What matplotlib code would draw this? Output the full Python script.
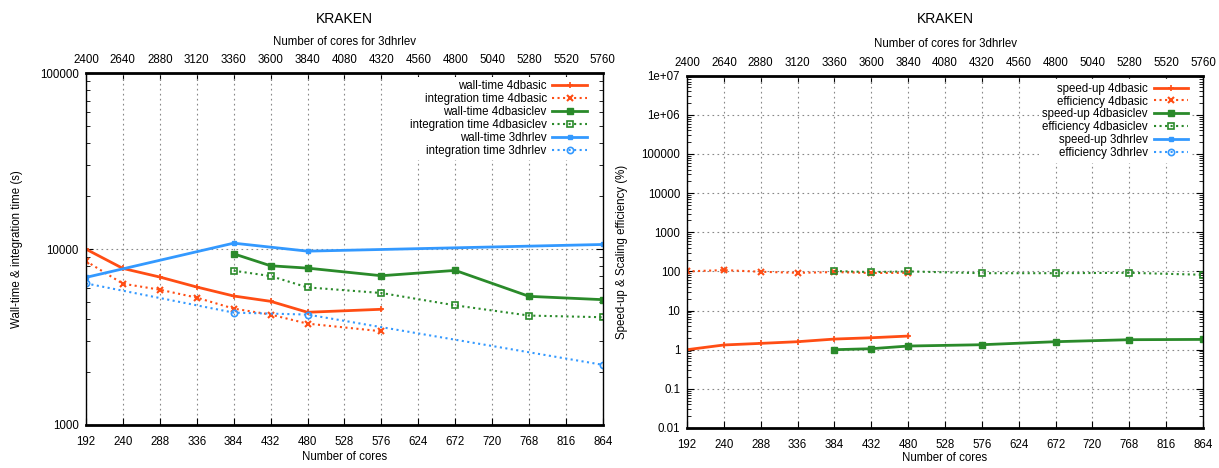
# KRAKEN scaling: wall-time / integration time and speed-up / efficiency

import numpy as np
import matplotlib
matplotlib.use('Agg')
import matplotlib.pyplot as plt
from matplotlib.ticker import FixedLocator, LogLocator, NullFormatter, FuncFormatter

plt.rcParams['font.family'] = ['Liberation Sans', 'DejaVu Sans']
plt.rcParams['font.size'] = 8.3

# data
cores_4dbasic = [192, 240, 288, 336, 384, 432, 480, 576]
wall_4dbasic = [10000, 7770, 6940, 6090, 5415, 5050, 4375, 4550]
integ_4dbasic = [8550, 6360, 5880, 5300, 4590, 4245, 3770, 3412]

cores_4dbasiclev = [384, 432, 480, 576, 672, 768, 864]
wall_4dbasiclev = [9410, 8043, 7800, 7060, 7570, 5390, 5160]
integ_4dbasiclev = [7540, 7030, 6060, 5630, 4790, 4190, 4100]

cores_3dhrlev = [2400, 3360, 3840, 5760]
wall_3dhrlev = [6906, 10815, 9740, 10630]
integ_3dhrlev = [6385, 4355, 4245, 2198]

cores_speed_4dbasic = [192, 240, 288, 336, 384, 432, 480]
speedup_4dbasic = [1.0, 1.32, 1.45, 1.6, 1.87, 2.02, 2.23]
eff_4dbasic = [100, 108, 98, 92, 96, 91, 92]

cores_speed_4dbasiclev = [384, 432, 480, 576, 672, 768, 864]
speedup_4dbasiclev = [1.0, 1.06, 1.24, 1.34, 1.6, 1.8, 1.83]
eff_4dbasiclev = [102, 96, 100, 90, 90, 92, 82]

bottom_ticks = list(range(192, 865, 48))
top_ticks = list(range(2400, 5761, 240))

c_or = '#ff4d14'
c_gr = '#2a8a2a'
c_bl = '#3399ff'

fig = plt.figure(figsize=(12.19, 4.68), dpi=100)
ax1 = fig.add_axes([0.0705, 0.0919, 0.4241, 0.7515])
ax2 = fig.add_axes([0.5636, 0.0855, 0.4233, 0.7528])


def style_axes(ax, ylo, yhi):
    ax.set_yscale('log')
    ax.set_xlim(192, 864)
    ax.set_ylim(ylo, yhi)
    ax.xaxis.set_major_locator(FixedLocator(bottom_ticks))
    ax.yaxis.set_minor_locator(LogLocator(base=10, subs=np.arange(2, 10)))
    ax.yaxis.set_minor_formatter(NullFormatter())
    ax.tick_params(which='both', direction='in', right=True, top=False)
    ax.tick_params(axis='x', pad=8)
    ax.tick_params(axis='y', pad=5)
    ax.tick_params(which='major', length=5)
    ax.tick_params(which='minor', length=3)
    ax.grid(True, which='major', color='#888888', linestyle=(0, (1.5, 3)), linewidth=0.8)
    for s in ax.spines.values():
        s.set_linewidth(1.0)
    ax.spines['bottom'].set_linewidth(2.0)
    ax.spines['top'].set_linewidth(2.0)
    ax.set_xlabel('Number of cores')
    top = ax.secondary_xaxis('top', functions=(lambda x: (x - 192) * 5 + 2400,
                                                lambda x: (x - 2400) / 5 + 192))
    top.xaxis.set_major_locator(FixedLocator(top_ticks))
    top.tick_params(direction='in', length=5, pad=5)
    top.set_xlabel('Number of cores for 3dhrlev', labelpad=7)
    return top


def add_legend(ax, shift):
    return ax.legend(loc='upper right', bbox_to_anchor=(1 - shift, 1.0),
                     markerfirst=False, frameon=True, fancybox=False,
                     edgecolor='none', facecolor='white', framealpha=1, handlelength=3,
                     labelspacing=0.08, borderaxespad=0.3, borderpad=0.3,
                     handletextpad=0.5)


style_axes(ax1, 1000, 100000)
ax1.yaxis.set_major_formatter(FuncFormatter(lambda v, p: '%d' % v))
ax1.set_ylabel('Wall-time & integration time (s)')
ax1.yaxis.set_label_coords(-0.122, 0.5)
ax1.xaxis.set_label_coords(0.5, -0.075)
ax1.set_title('KRAKEN', pad=36)

# 3dhrlev is plotted on the top axis scale
x_3d = [(c - 2400) / 5 + 192 for c in cores_3dhrlev]

ax1.plot(cores_4dbasic, wall_4dbasic, '-', color=c_or, lw=2, marker='+', ms=5, mew=1.2,
         label='wall-time 4dbasic')
ax1.plot(cores_4dbasic, integ_4dbasic, ':', color=c_or, lw=1.5, marker='x', ms=4.5, mew=1.5,
         label='integration time 4dbasic')
ax1.plot(cores_4dbasiclev, wall_4dbasiclev, '-', color=c_gr, lw=2, marker='s', ms=4,
         label='wall-time 4dbasiclev')
ax1.plot(cores_4dbasiclev, integ_4dbasiclev, ':', color=c_gr, lw=1.5, marker='s', ms=5,
         mfc='none', mew=1.2, label='integration time 4dbasiclev')
ax1.plot(x_3d, wall_3dhrlev, '-', color=c_bl, lw=2, marker='s', ms=3.5,
         label='wall-time 3dhrlev')
ax1.plot(x_3d, integ_3dhrlev, ':', color=c_bl, lw=1.5, marker='o', ms=4.5,
         mfc='none', mew=1.2, label='integration time 3dhrlev')

add_legend(ax1, 9 / 517)

style_axes(ax2, 0.01, 1e7)


def right_fmt(v, p):
    if v >= 1e6:
        return '%.0e' % v
    if v >= 1:
        return '%d' % v
    return '%g' % v


ax2.yaxis.set_major_locator(LogLocator(base=10, numticks=20))
ax2.yaxis.set_major_formatter(FuncFormatter(right_fmt))
ax2.set_ylabel('Speed-up & Scaling efficiency (%)')
ax2.yaxis.set_label_coords(-0.115, 0.5)
ax2.xaxis.set_label_coords(0.5, -0.068)
ax2.set_title('KRAKEN', pad=38)

ax2.plot(cores_speed_4dbasic, speedup_4dbasic, '-', color=c_or, lw=2, marker='+', ms=5, mew=1.2,
         label='speed-up 4dbasic')
ax2.plot(cores_speed_4dbasic, eff_4dbasic, ':', color=c_or, lw=1.5, marker='x', ms=4.5, mew=1.5,
         label='efficiency 4dbasic')
ax2.plot(cores_speed_4dbasiclev, speedup_4dbasiclev, '-', color=c_gr, lw=2, marker='s', ms=4,
         label='speed-up 4dbasiclev')
ax2.plot(cores_speed_4dbasiclev, eff_4dbasiclev, ':', color=c_gr, lw=1.5, marker='s', ms=5,
         mfc='none', mew=1.2, label='efficiency 4dbasiclev')
ax2.plot([], [], '-', color=c_bl, lw=2, marker='s', ms=3.5, label='speed-up 3dhrlev')
ax2.plot([], [], ':', color=c_bl, lw=1.5, marker='o', ms=4.5, mfc='none', mew=1.2,
         label='efficiency 3dhrlev')

add_legend(ax2, 8 / 516)

fig.savefig('out.png', dpi=100)
